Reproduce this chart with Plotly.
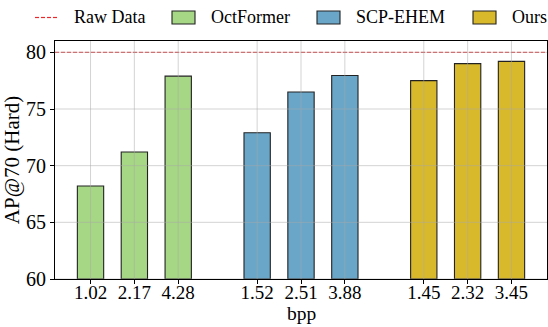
import plotly.graph_objects as go

# Bits-per-point labels and AP@70 (Hard) scores per method
methods = ["OctFormer", "SCP-EHEM", "Ours"]
bpp_labels = [["1.02", "2.17", "4.28"], ["1.52", "2.51", "3.88"], ["1.45", "2.32", "3.45"]]
ap_values = [[68.2, 71.2, 77.9], [72.9, 76.5, 77.95], [77.5, 79.0, 79.2]]
raw_data_name = "Raw Data"
raw_data_ap = 80.0
x_title = "bpp"
y_title = "AP@70 (Hard)"

colors = ["#A6D784", "#6AA6C8", "#D9B92C"]
edge_color = "#222222"
raw_color = "#E8282B"
bar_width = 0.6
group_gap = 1.8
font_family = "Liberation Serif, Times New Roman, serif"

W, H = 548, 327
M_L, M_R, M_T, M_B = 55, 1, 41, 48
plot_w = W - M_L - M_R
plot_h = H - M_T - M_B

# Bar positions: unit spacing inside a group, wider gap between groups
positions = []
start = 0.0
for vals in ap_values:
    positions.append([start + i for i in range(len(vals))])
    start += len(vals) - 1 + group_gap

all_x = [x for grp in positions for x in grp]
all_labels = [l for grp in bpp_labels for l in grp]
x_lo = all_x[0] - bar_width / 2
x_hi = all_x[-1] + bar_width / 2
pad = 0.05 * (x_hi - x_lo)
x_range = [x_lo - pad, x_hi + pad]
y_range = [60, 81]
y_ticks = [60, 65, 70, 75, 80]

fig = go.Figure()

fig.add_trace(go.Scatter(
    x=x_range, y=[raw_data_ap, raw_data_ap], mode="lines", name=raw_data_name,
    line=dict(color=raw_color, width=1, dash="4px,2px"), showlegend=False,
))

for name, xs, vals, c in zip(methods, positions, ap_values, colors):
    fig.add_trace(go.Bar(
        x=xs, y=[v - y_range[0] for v in vals], base=y_range[0], name=name,
        width=bar_width, showlegend=False,
        marker=dict(color=c, line=dict(color=edge_color, width=1.1)),
    ))

# Grid drawn on top of the bars
grid_color = "rgba(170,170,170,0.5)"
shapes = []
for x in all_x:
    shapes.append(dict(type="line", xref="x", yref="paper", x0=x, x1=x, y0=0, y1=1,
                       line=dict(color=grid_color, width=1), layer="above"))
for y in y_ticks:
    shapes.append(dict(type="line", xref="paper", yref="y", x0=0, x1=1, y0=y, y1=y,
                       line=dict(color=grid_color, width=1), layer="above"))


def px_x(p):
    return (p - M_L) / plot_w


def px_y(p):
    return 1 + (M_T - p) / plot_h


# Legend row across the top, laid out in pixels
annotations = []
leg_y = 17.5
legend_font = dict(family=font_family, size=18, color="black")
for seg in range(4):
    # short red dashes for the reference-line key
    sx = 35 + seg * 6
    shapes.append(dict(type="line", xref="paper", yref="paper",
                       x0=px_x(sx), x1=px_x(sx + 4), y0=px_y(leg_y), y1=px_y(leg_y),
                       line=dict(color=raw_color, width=1.2)))
annotations.append(dict(xref="paper", yref="paper", x=px_x(72), y=px_y(leg_y),
                        xanchor="left", yanchor="middle", showarrow=False,
                        text=raw_data_name, font=legend_font))
patch_left = [172, 317, 473]
for name, c, pl in zip(methods, colors, patch_left):
    shapes.append(dict(type="rect", xref="paper", yref="paper",
                       x0=px_x(pl), x1=px_x(pl + 23),
                       y0=px_y(leg_y + 6.5), y1=px_y(leg_y - 6.5),
                       fillcolor=c, line=dict(color=edge_color, width=1.1)))
    annotations.append(dict(xref="paper", yref="paper", x=px_x(pl + 37), y=px_y(leg_y),
                            xanchor="left", yanchor="middle", showarrow=False,
                            text=name, font=legend_font))

# Axis title under the tick labels
annotations.append(dict(xref="paper", yref="paper", x=0.5, y=px_y(313),
                        xanchor="center", yanchor="middle", showarrow=False,
                        text=x_title, font=dict(family=font_family, size=19.5)))

fig.update_layout(
    width=W, height=H,
    margin=dict(l=M_L, r=M_R, t=M_T, b=M_B),
    plot_bgcolor="white", paper_bgcolor="white",
    font=dict(family=font_family, size=19, color="black"),
    barmode="overlay",
    shapes=shapes,
    annotations=annotations,
    showlegend=False,
    xaxis=dict(range=x_range, tickmode="array", tickvals=all_x, ticktext=all_labels,
               showgrid=False, zeroline=False, showline=True, linecolor="black",
               linewidth=1.2, mirror=True, ticks="outside", ticklen=3.5,
               tickcolor="black", tickfont=dict(size=19), ticklabelstandoff=-7),
    yaxis=dict(range=y_range, tickmode="array", tickvals=y_ticks,
               showgrid=False, zeroline=False, showline=True, linecolor="black",
               linewidth=1.2, mirror=True, ticks="outside", ticklen=4,
               tickcolor="black", tickfont=dict(size=20),
               title=dict(text=y_title, font=dict(size=21), standoff=4)),
)

fig.write_html("out.html")
